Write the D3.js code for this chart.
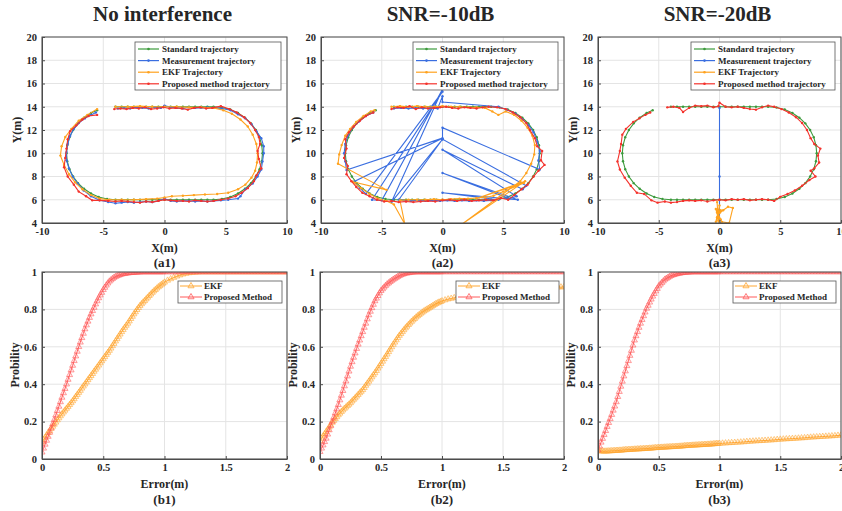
<!DOCTYPE html>
<html>
<head>
<meta charset="utf-8">
<title>Trajectories and error CDF</title>
<script src="https://d3js.org/d3.v7.min.js"></script>
<style>
    body { margin: 0; background: #fff; }
    svg text { font-family: "Liberation Serif", "Times New Roman", serif; font-weight: bold; fill: #262626; }
    .axis path, .axis line { stroke: #4d4d4d; }
    .axis text { font-size: 10.5px; }
    .grid line { stroke: #e4e4e4; stroke-width: 1; }
</style>
</head>
<body>
<svg id="fig" width="842" height="511"></svg>
<script>

// ---- trajectory data (x, y in metres) ----
var stdTraj = [[-4,14],[-3.5,14],[-3,14],[-2.5,14],[-2,14],[-1.5,14],[-1,14],[-0.5,14],[0,14],[0.5,14],[1,14],[1.5,14],[2,14],[2.5,14],[3,14],[3.5,14],[4,14],
    [4.69,13.94],[5.37,13.76],[6.0,13.46],[6.57,13.06],[7.06,12.57],[7.46,12.0],[7.76,11.37],[7.94,10.69],[8,10],[7.94,9.31],[7.76,8.63],[7.46,8.0],[7.06,7.43],[6.57,6.94],[6.0,6.54],[5.37,6.24],[4.69,6.06],
    [4,6],[3.5,6],[3,6],[2.5,6],[2,6],[1.5,6],[1,6],[0.5,6],[0,6],[-0.5,6],[-1,6],[-1.5,6],[-2,6],[-2.5,6],[-3,6],[-3.5,6],[-4,6],
    [-4.69,6.06],[-5.37,6.24],[-6.0,6.54],[-6.57,6.94],[-7.06,7.43],[-7.46,8.0],[-7.76,8.63],[-7.94,9.31],[-8,10],[-7.94,10.69],[-7.76,11.37],[-7.46,12.0],[-7.06,12.57],[-6.57,13.06],[-6.0,13.46],[-5.5,13.7]];

var meas1 = [[-3.8,13.85],[-3.3,13.9],[-2.8,13.85],[-2.3,13.95],[-1.8,13.9],[-1.3,13.85],[-0.8,13.95],[-0.3,13.9],[0,14.1],[0.5,13.95],[1.0,13.9],[1.5,13.85],[2.0,13.95],[2.5,13.9],[3.0,13.9],[3.5,13.95],[4.0,13.9],
    [4.7,13.85],[5.4,13.7],[6.0,13.35],[6.6,13.0],[7.1,12.5],[7.5,11.9],[7.9,11.3],[8.1,10.6],[8.1,10.0],[8.0,9.3],[7.9,8.6],[7.6,8.0],[7.2,7.4],[6.6,6.9],[6.2,6.3],[6.0,6.1],
    [5.2,6.0],[4.6,5.95],[4.0,5.9],[3.5,5.85],[3.0,5.9],[2.5,5.85],[2.0,5.9],[1.5,5.9],[1.0,5.85],[0.5,5.9],[0,6.1],[-0.5,5.9],[-1.0,5.8],[-1.5,5.85],[-2.0,5.8],[-2.5,5.75],[-3.0,5.8],[-3.5,5.75],[-4.0,5.7],
    [-4.6,5.8],[-5.3,5.95],[-6.0,6.3],[-6.6,6.8],[-7.1,7.4],[-7.5,8.0],[-7.8,8.7],[-8.0,9.4],[-8.0,10.1],[-7.9,10.8],[-7.7,11.5],[-7.4,12.1],[-7.0,12.6],[-6.5,13.0],[-6.0,13.3],[-5.6,13.5]];

var ekf1 = [[-4,14.0],[-3,14.0],[-2,14.05],[-1,14.0],[0,14.0],[1,14.0],[2,13.95],[3,13.95],[4,13.9],[4.8,13.7],[5.5,13.4],[6.2,12.9],[6.8,12.3],[7.2,11.6],[7.5,10.8],[7.6,10.0],[7.55,9.2],[7.4,8.5],[7.1,7.9],[6.6,7.3],[6.0,6.9],
    [5.2,6.6],[4.3,6.5],[3.3,6.45],[2.4,6.4],[1.5,6.35],[0.6,6.3],[0,6.2],[-0.6,6.1],[-1.5,6.05],[-2.5,6.0],[-3.5,6.0],[-4.5,6.0],[-5.3,6.1],[-6.0,6.4],[-6.7,6.9],[-7.3,7.5],[-7.8,8.2],[-8.2,9.0],[-8.5,9.8],[-8.4,10.6],[-8.1,11.4],[-7.6,12.1],[-7.0,12.8],[-6.3,13.3],[-5.5,13.8]];

var prop1 = [[-4.1,13.8],[-3.6,13.85],[-3.1,13.8],[-2.6,13.9],[-2.1,13.85],[-1.6,13.95],[-1.1,13.8],[-0.6,13.85],[-0.1,13.95],[0.4,13.85],[0.9,13.9],[1.4,13.85],[1.9,13.75],[2.4,13.9],[2.9,13.95],[3.4,13.85],[3.9,13.9],
    [4.6,14.05],[5.3,13.8],[5.9,13.5],[6.5,13.1],[7.0,12.6],[7.4,12.0],[7.7,11.4],[7.8,10.8],[7.6,10.2],[7.7,9.5],[7.9,8.7],[7.5,8.1],[7.3,7.6],[6.8,7.0],[6.3,6.6],[5.8,6.3],
    [5.2,6.1],[4.6,6.0],[4.0,5.9],[3.5,5.85],[3.0,5.9],[2.5,5.95],[2.0,5.85],[1.5,5.9],[1.0,5.9],[0.5,5.95],[0,6.0],[-0.5,5.9],[-1.0,5.8],[-1.5,5.85],[-2.0,5.75],[-2.5,5.8],[-3.0,5.85],[-3.5,5.9],[-4.0,5.85],
    [-4.6,5.9],[-5.3,5.95],[-5.9,5.95],[-6.4,6.3],[-7.0,6.7],[-7.4,7.3],[-7.9,8.0],[-8.2,8.8],[-8.1,9.6],[-8.0,10.4],[-7.9,11.2],[-7.7,11.9],[-7.2,12.4],[-6.7,12.9],[-6.2,13.2],[-5.5,13.3]];

var meas2 = [[-4.0,13.85],[-3.4,13.9],[-2.8,13.85],[-2.2,13.9],[-1.6,13.85],[-1.0,13.9],[-0.4,13.85],[0,14.9],[0,14.4],
    [4.6,14.0],[5.3,13.75],[6.0,13.4],[6.6,12.9],[7.1,12.4],[7.5,11.8],[7.8,11.0],[8.0,10.2],[7.9,9.4],[8.0,8.6],[0,12.2],[0,11.2],[6.9,7.2],[6.6,6.9],[0,10.3],[6.1,6.3],[5.5,6.1],[0,8.3],[6.2,6.0],[0,6.6],[4.6,6.0],
    [4.0,5.95],[3.4,5.9],[2.8,5.95],[2.2,5.9],[1.6,5.95],[1.0,5.9],[0.4,5.95],[-0.2,5.9],[-0.8,5.95],[-1.4,5.9],[-2.0,5.95],[-2.6,5.9],[-3.2,5.95],[-3.6,6.0],[0,11.2],[-4.2,5.8],[0,15.5],[-5.0,5.95],[-5.8,6.0],[0,15.3],
    [-6.3,6.5],[-6.8,7.0],[-7.3,7.55],[0,11.3],[-7.9,8.55],[-8.0,9.3],[-8.1,10.0],[-8.0,10.8],[-7.8,11.5],[-7.4,12.2],[-6.9,12.7],[-6.3,13.2],[-5.7,13.5]];

var ekf2 = [[-4.2,14.0],[-3.5,14.05],[-2.8,14.0],[-2.1,14.05],[-1.4,14.0],[-0.7,14.0],[0,14.05],[0.7,14.0],[1.4,14.0],[2.1,13.95],[2.8,13.95],[3.5,13.9],[4.1,13.6],[4.6,13.3],[5.2,13.6],[5.9,13.3],[6.5,12.8],[7.0,12.2],[7.4,11.5],[7.6,10.7],[7.55,9.9],[7.3,9.1],[6.9,8.3],[6.4,7.6],
    [1.6,3.9],[6.8,7.6],[2.8,6.1],[6.7,7.45],[5.0,6.7],[4.2,6.35],[3.5,6.2],[2.8,6.15],[2.1,6.1],[1.4,6.1],[0.7,6.05],[0,6.0],[-0.7,6.05],[-1.4,6.0],[-2.1,6.0],[-2.8,6.0],[-3.5,5.95],[-3.1,3.9],[-4.0,5.6],[-4.6,5.9],[-5.3,6.1],[-6.0,6.5],[-6.7,7.0],[-7.4,7.55],[-4.6,6.85],
    [-8.6,9.1],[-8.5,9.9],[-8.3,10.7],[-8.0,11.5],[-7.6,12.1],[-7.1,12.7],[-6.5,13.2],[-5.9,13.6],[-5.6,13.7]];

var prop2 = [[-4.2,13.8],[-3.7,13.95],[-3.2,13.9],[-2.7,14.05],[-2.2,13.8],[-1.7,13.95],[-1.2,13.85],[-0.7,13.9],[-0.2,13.95],[0.3,14.0],[0.8,13.9],[1.3,13.85],[1.8,13.95],[2.3,13.9],[2.8,13.85],[3.3,13.95],[3.8,14.0],
    [4.5,13.95],[5.2,13.8],[5.8,13.5],[6.4,13.1],[6.9,12.6],[7.2,12.0],[7.6,11.3],[7.8,10.6],[8.2,10.2],[8.1,9.4],[8.4,9.0],[7.9,8.5],[7.5,8.0],[7.0,7.3],[6.5,6.9],[5.9,6.4],
    [5.4,6.0],[4.8,6.15],[4.2,5.95],[3.6,6.0],[3.0,5.95],[2.4,5.9],[1.8,6.0],[1.2,5.9],[0.6,6.0],[0,5.95],[-0.6,5.85],[-1.2,5.9],[-1.8,5.85],[-2.4,5.8],[-3.0,5.85],[-3.6,5.8],[-4.2,5.9],
    [-4.8,5.85],[-5.4,6.0],[-6.0,6.3],[-6.6,6.6],[-7.1,7.1],[-7.5,7.6],[-7.9,8.2],[-7.8,8.9],[-8.1,9.6],[-7.9,10.4],[-8.0,11.2],[-7.7,11.8],[-7.3,12.3],[-6.8,12.8],[-6.3,13.2],[-5.7,13.5]];

var meas3 = [[0,13.9],[0,8.0],[0,2.0]];

var ekf3 = [[-0.2,5.8],[-0.1,4.2],[0,5.5],[-0.3,4.1],[0.1,5.1],[-0.2,4.5],[0.05,4.9],[0.3,5.1],[0.7,5.4],[1.1,5.3],[0.8,4.0],[0.2,4.1],[-0.1,4.6],[0.0,3.9],[-0.2,4.9],[0.1,4.3],[-0.3,5.2],[0,4.0]];

var prop3 = [[-4.3,13.95],[-3.8,14.0],[-3.3,13.9],[-3.0,13.55],[-2.5,13.9],[-2.0,14.1],[-1.5,14.05],[-1.0,14.1],[-0.5,13.95],[-0.1,14.05],[0,14.35],[0.5,14.0],[1.0,13.95],[1.5,14.0],[2.0,13.9],[2.5,13.8],[3.0,13.75],[3.5,13.95],[4.0,14.1],[4.5,14.0],
    [5.1,13.8],[5.7,13.5],[6.3,13.1],[6.8,12.6],[7.2,12.0],[7.5,11.3],[7.8,10.8],[8.3,10.4],[8.1,9.8],[8.2,9.2],[7.8,8.7],[7.5,8.5],[7.9,8.0],[7.4,7.7],[6.8,7.2],[6.2,6.8],[5.6,6.5],[5.0,6.25],
    [4.5,5.9],[4.0,6.0],[3.5,6.05],[3.0,6.0],[2.5,5.95],[2.0,6.05],[1.5,6.0],[1.0,6.05],[0.5,5.95],[0,6.0],[-0.5,5.95],[-1.0,5.85],[-1.5,5.95],[-2.0,5.9],[-2.5,5.95],[-3.0,5.9],[-3.5,5.8],[-4.0,5.75],[-4.5,5.85],
    [-5.1,5.75],[-5.6,5.95],[-6.2,6.5],[-6.8,6.6],[-7.3,7.2],[-7.8,7.9],[-8.2,8.6],[-8.4,9.3],[-8.2,10.2],[-8.1,10.8],[-8.0,11.6],[-7.7,12.1],[-7.1,12.7],[-6.6,13.0],[-6.1,13.3],[-5.7,13.5]];

// ---- error CDF data ----
// error axis: every 0.0125 m up to 1 m, then every 0.025 m up to 2 m
var errX = d3.range(80).map(function(i){ return i * 0.0125; })
    .concat(d3.range(41).map(function(i){ return 1 + i * 0.025; }));

var cdfEkf1 = [.090,.102,.115,.127,.140,.151,.163,.174,
    .185,.196,.208,.219,.230,.240,.250,.260,
    .270,.280,.290,.300,.310,.321,.333,.344,
    .355,.366,.378,.389,.400,.411,.423,.434,
    .445,.456,.468,.479,.490,.501,.513,.524,
    .535,.546,.558,.569,.580,.592,.605,.617,
    .630,.642,.655,.667,.680,.691,.703,.714,
    .725,.737,.750,.762,.775,.786,.798,.809,
    .820,.829,.838,.846,.855,.864,.873,.881,
    .890,.898,.905,.913,.920,.926,.933,.939,
    .945,.955,.963,.970,.977,.983,.988,.992,.995,.997,
    .998,.999,1,1,1,1,1,1,1,1,
    1,1,1,1,1,1,1,1,1,1,
    1,1,1,1,1,1,1,1,1,1,
    1];
var cdfProp1 = [.036,.057,.078,.099,.120,.142,.165,.187,
    .210,.234,.258,.281,.305,.329,.353,.376,
    .400,.425,.450,.475,.500,.525,.550,.575,
    .600,.624,.648,.671,.695,.716,.736,.756,
    .775,.793,.810,.828,.845,.861,.876,.890,
    .905,.917,.929,.940,.950,.957,.964,.970,
    .975,.979,.982,.985,.988,.990,.991,.993,
    .994,.995,.996,.996,.997,.998,.998,.999,
    .999,1,1,1,1,1,1,1,
    1,1,1,1,1,1,1,1,
    1,1,1,1,1,1,1,1,1,1,
    1,1,1,1,1,1,1,1,1,1,
    1,1,1,1,1,1,1,1,1,1,
    1,1,1,1,1,1,1,1,1,1,
    1];
var cdfEkf2 = [.098,.110,.122,.133,.145,.157,.170,.182,
    .195,.205,.215,.225,.235,.244,.253,.261,
    .270,.277,.285,.292,.300,.309,.318,.326,
    .335,.344,.353,.361,.370,.381,.393,.404,
    .415,.426,.438,.449,.460,.472,.485,.497,
    .510,.522,.535,.547,.560,.573,.586,.599,
    .612,.624,.636,.648,.660,.670,.680,.690,
    .700,.709,.718,.726,.735,.743,.750,.758,
    .765,.771,.778,.784,.790,.795,.800,.805,
    .810,.815,.820,.825,.830,.834,.838,.841,
    .845,.850,.855,.858,.862,.865,.868,.871,.874,.877,
    .880,.882,.884,.886,.888,.890,.892,.894,.896,.898,
    .900,.901,.903,.904,.905,.906,.907,.908,.909,.910,
    .912,.913,.914,.915,.916,.916,.917,.918,.919,.919,
    .920];
var cdfProp2 = [.039,.057,.074,.092,.110,.132,.155,.177,
    .200,.222,.245,.267,.290,.315,.340,.365,
    .390,.416,.443,.469,.495,.519,.543,.566,
    .590,.613,.635,.658,.680,.703,.725,.748,
    .770,.789,.808,.826,.845,.859,.873,.887,
    .900,.909,.918,.927,.935,.941,.948,.954,
    .960,.965,.970,.975,.980,.984,.987,.990,
    .993,.994,.995,.997,.998,.999,.999,1,
    1,1,1,1,1,1,1,1,
    1,1,1,1,1,1,1,1,
    1,1,1,1,1,1,1,1,1,1,
    1,1,1,1,1,1,1,1,1,1,
    1,1,1,1,1,1,1,1,1,1,
    1,1,1,1,1,1,1,1,1,1,
    1];
var cdfEkf3 = [.045,.043,.042,.042,.041,.041,.042,.042,
    .043,.043,.044,.044,.045,.045,.046,.046,
    .047,.048,.049,.049,.050,.050,.051,.051,
    .052,.052,.053,.053,.054,.054,.055,.055,
    .056,.056,.057,.057,.058,.059,.060,.060,
    .061,.061,.062,.062,.063,.063,.064,.064,
    .065,.065,.066,.066,.067,.067,.068,.068,
    .069,.070,.071,.071,.072,.072,.073,.073,
    .074,.074,.075,.075,.076,.076,.077,.077,
    .078,.078,.079,.079,.080,.081,.082,.082,
    .083,.084,.085,.086,.087,.088,.089,.090,.091,.093,
    .094,.095,.096,.097,.098,.099,.100,.101,.102,.104,
    .105,.106,.107,.108,.109,.110,.111,.112,.113,.115,
    .116,.117,.118,.119,.120,.121,.122,.123,.124,.126,
    .127];
var cdfProp3 = [.048,.068,.089,.109,.130,.151,.173,.194,
    .215,.237,.260,.282,.305,.333,.360,.388,
    .415,.443,.470,.498,.525,.553,.580,.608,
    .635,.658,.680,.703,.725,.745,.765,.785,
    .805,.821,.838,.854,.870,.884,.898,.911,
    .925,.934,.943,.951,.960,.965,.970,.975,
    .980,.983,.985,.988,.990,.992,.993,.995,
    .996,.997,.998,.998,.999,.999,1,1,
    1,1,1,1,1,1,1,1,
    1,1,1,1,1,1,1,1,
    1,1,1,1,1,1,1,1,1,1,
    1,1,1,1,1,1,1,1,1,1,
    1,1,1,1,1,1,1,1,1,1,
    1,1,1,1,1,1,1,1,1,1,
    1];

var trajTicksX = [-10, -5, 0, 5, 10];
var trajTicksY = [4, 6, 8, 10, 12, 14, 16, 18, 20];
var cdfTicksX = [0, 0.5, 1, 1.5, 2];
var cdfTicksY = [0, 0.2, 0.4, 0.6, 0.8, 1];

var titles = ["No interference", "SNR=-10dB", "SNR=-20dB"];
var trajNames = ["Standard trajectory", "Measurement trajectory", "EKF Trajectory", "Proposed method trajectory"];
var cdfNames = ["EKF", "Proposed Method"];

var colStd = "#3c9a3c", colMeas = "#3a6ee0", colEkf = "#ffa21e", colProp = "#f4322c";
var colEkfCdf = "#ffa733", colPropCdf = "#ff5a5a";

var svg = d3.select("#fig");

var trajPanels = [
    {x0: 42, x1: 287, meas: meas1, ekf: ekf1, prop: prop1, tag: "(a1)", leg: 135},
    {x0: 321, x1: 564, meas: meas2, ekf: ekf2, prop: prop2, tag: "(a2)", leg: 413},
    {x0: 598, x1: 841, meas: meas3, ekf: ekf3, prop: prop3, tag: "(a3)", leg: 691}
];
var cdfPanels = [
    {x0: 42, x1: 287, ekf: cdfEkf1, prop: cdfProp1, tag: "(b1)", leg: 178},
    {x0: 320, x1: 564, ekf: cdfEkf2, prop: cdfProp2, tag: "(b2)", leg: 456},
    {x0: 598, x1: 841, ekf: cdfEkf3, prop: cdfProp3, tag: "(b3)", leg: 733}
];

function fmt(d) { return String(d); }

// clip area and light grid
function frame(g, x, y, tx, ty, id) {
    var r = x.range(), ry = y.range();
    g.append("clipPath").attr("id", id).append("rect")
        .attr("x", r[0]).attr("y", ry[1]).attr("width", r[1] - r[0]).attr("height", ry[0] - ry[1]);
    var grid = g.append("g").attr("class", "grid");
    grid.selectAll(".gx").data(tx).enter().append("line")
        .attr("x1", x).attr("x2", x).attr("y1", ry[0]).attr("y2", ry[1]);
    grid.selectAll(".gy").data(ty).enter().append("line")
        .attr("y1", y).attr("y2", y).attr("x1", r[0]).attr("x2", r[1]);
}

// axes with inward ticks and a closed box
function axes(g, x, y, tx, ty) {
    var r = x.range(), ry = y.range();
    g.append("g").attr("class", "axis").attr("transform", "translate(0," + ry[0] + ")")
        .call(d3.axisBottom(x).tickValues(tx).tickFormat(fmt).tickSizeInner(-3).tickSizeOuter(0).tickPadding(5));
    g.append("g").attr("class", "axis").attr("transform", "translate(" + r[0] + ",0)")
        .call(d3.axisLeft(y).tickValues(ty).tickFormat(fmt).tickSizeInner(-3).tickSizeOuter(0).tickPadding(5));
    g.append("rect").attr("x", r[0]).attr("y", ry[1]).attr("width", r[1] - r[0]).attr("height", ry[0] - ry[1])
        .attr("fill", "none").attr("stroke", "#4d4d4d").attr("stroke-width", 1);
}

// ---- top row: trajectories ----
trajPanels.forEach(function(p, i) {
    var g = svg.append("g");
    var x = d3.scaleLinear().domain([-10, 10]).range([p.x0, p.x1]);
    var y = d3.scaleLinear().domain([4, 20]).range([223, 37]);
    frame(g, x, y, trajTicksX, trajTicksY, "clipA" + i);

    var line = d3.line().x(function(d){ return x(d[0]); }).y(function(d){ return y(d[1]); });
    var series = [[stdTraj, colStd], [p.meas, colMeas], [p.ekf, colEkf], [p.prop, colProp]];
    var plot = g.append("g").attr("clip-path", "url(#clipA" + i + ")");
    series.forEach(function(s) {
        plot.append("path").datum(s[0]).attr("d", line)
            .attr("fill", "none").attr("stroke", s[1]).attr("stroke-width", 1.1);
        plot.selectAll(null).data(s[0]).enter().append("circle")
            .attr("cx", function(d){ return x(d[0]); }).attr("cy", function(d){ return y(d[1]); })
            .attr("r", 1.2).attr("fill", s[1]);
    });
    axes(g, x, y, trajTicksX, trajTicksY);

    // legend
    var lg = g.append("g").attr("transform", "translate(" + p.leg + ",42)");
    lg.append("rect").attr("width", p.x1 - 6 - p.leg).attr("height", 48)
        .attr("fill", "#fff").attr("stroke", "#555").attr("stroke-width", 0.8);
    [colStd, colMeas, colEkf, colProp].forEach(function(c, k) {
        var yy = 7 + k * 11.6;
        lg.append("line").attr("x1", 3).attr("x2", 24).attr("y1", yy).attr("y2", yy)
            .attr("stroke", c).attr("stroke-width", 1.2);
        lg.append("circle").attr("cx", 13.5).attr("cy", yy).attr("r", 1.3).attr("fill", c);
        lg.append("text").attr("x", 27).attr("y", yy + 3).style("font-size", "9px").text(trajNames[k]);
    });

    var cx = (p.x0 + p.x1) / 2;
    g.append("text").attr("x", cx - 2).attr("y", 21).attr("text-anchor", "middle")
        .style("font-size", "21px").text(titles[i]);
    g.append("text").attr("x", cx).attr("y", 252).attr("text-anchor", "middle")
        .style("font-size", "12px").text("X(m)");
    g.append("text").attr("x", cx).attr("y", 267).attr("text-anchor", "middle")
        .style("font-size", "13px").text(p.tag);
    g.append("text").attr("transform", "translate(" + (p.x0 - 21) + ",130) rotate(-90)")
        .attr("text-anchor", "middle").style("font-size", "12px").text("Y(m)");
});

// ---- bottom row: error CDFs ----
var tri = d3.symbol().type(d3.symbolTriangle).size(16);

cdfPanels.forEach(function(p, i) {
    var g = svg.append("g");
    var x = d3.scaleLinear().domain([0, 2]).range([p.x0, p.x1]);
    var y = d3.scaleLinear().domain([0, 1]).range([459, 272]);
    frame(g, x, y, cdfTicksX, cdfTicksY, "clipB" + i);

    var plot = g.append("g").attr("clip-path", "url(#clipB" + i + ")");
    [[p.ekf, colEkfCdf], [p.prop, colPropCdf]].forEach(function(s) {
        var pts = errX.map(function(e, k){ return [e, s[0][k]]; });
        plot.append("path").datum(pts)
            .attr("d", d3.line().x(function(d){ return x(d[0]); }).y(function(d){ return y(d[1]); }))
            .attr("fill", "none").attr("stroke", s[1]).attr("stroke-width", 1);
        plot.selectAll(null).data(pts).enter().append("path")
            .attr("d", tri)
            .attr("transform", function(d){ return "translate(" + x(d[0]) + "," + y(d[1]) + ")"; })
            .attr("fill", s[1]).attr("fill-opacity", 0.12)
            .attr("stroke", s[1]).attr("stroke-width", 0.7).attr("stroke-opacity", 0.8);
    });
    axes(g, x, y, cdfTicksX, cdfTicksY);

    var lg = g.append("g").attr("transform", "translate(" + p.leg + ",281)");
    lg.append("rect").attr("width", p.x1 - 5 - p.leg).attr("height", 22)
        .attr("fill", "#fff").attr("stroke", "#555").attr("stroke-width", 0.8);
    [colEkfCdf, colPropCdf].forEach(function(c, k) {
        var yy = 5 + k * 11;
        lg.append("line").attr("x1", 2).attr("x2", 24).attr("y1", yy).attr("y2", yy)
            .attr("stroke", c).attr("stroke-width", 1);
        lg.append("path").attr("d", tri).attr("transform", "translate(13," + yy + ")")
            .attr("fill", "none").attr("stroke", c).attr("stroke-width", 0.8);
        lg.append("text").attr("x", 26).attr("y", yy + 3).style("font-size", "9px").text(cdfNames[k]);
    });

    var cx = (p.x0 + p.x1) / 2;
    g.append("text").attr("x", cx).attr("y", 488).attr("text-anchor", "middle")
        .style("font-size", "12px").text("Error(m)");
    g.append("text").attr("x", cx).attr("y", 504).attr("text-anchor", "middle")
        .style("font-size", "13px").text(p.tag);
    g.append("text").attr("transform", "translate(" + (p.x0 - 23) + ",365) rotate(-90)")
        .attr("text-anchor", "middle").style("font-size", "12px").text("Probility");
});

</script>
</body>
</html>
